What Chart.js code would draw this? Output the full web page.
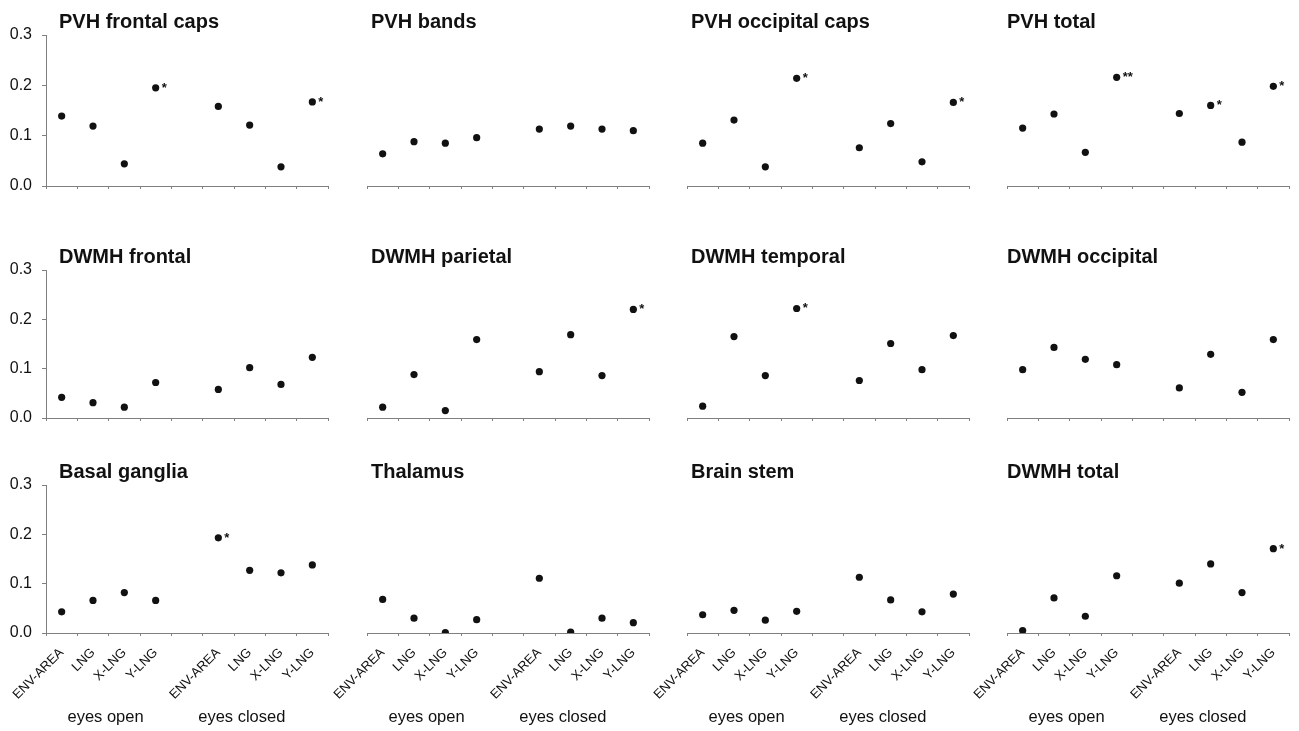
<!DOCTYPE html>
<html>
<head>
<meta charset="utf-8">
<script src="https://cdn.jsdelivr.net/npm/chart.js@4/dist/chart.umd.min.js"></script>
<style>
  body { margin: 0; background: #fff; }
  #wrap { position: relative; width: 1299px; height: 731px; overflow: hidden; }
  #wrap canvas { position: absolute; }
</style>
</head>
<body>
<div id="wrap"></div>
<script>
// categories (index 4 is the empty slot between the two groups)
const categories = ['ENV-AREA', 'LNG', 'X-LNG', 'Y-LNG', '', 'ENV-AREA', 'LNG', 'X-LNG', 'Y-LNG'];
const groupLabels = ['eyes open', 'eyes closed'];
const yTicks = [0, 0.1, 0.2, 0.3];

const titles = [
  'PVH frontal caps', 'PVH bands', 'PVH occipital caps', 'PVH total',
  'DWMH frontal', 'DWMH parietal', 'DWMH temporal', 'DWMH occipital',
  'Basal ganglia', 'Thalamus', 'Brain stem', 'DWMH total'
];

const pvhFrontalCaps   = [0.139, 0.119, 0.044, 0.195, null, 0.158, 0.121, 0.038, 0.167];
const pvhBands         = [0.064, 0.088, 0.085, 0.096, null, 0.113, 0.119, 0.113, 0.110];
const pvhOccipitalCaps = [0.085, 0.131, 0.038, 0.214, null, 0.076, 0.124, 0.048, 0.166];
const pvhTotal         = [0.115, 0.143, 0.067, 0.216, null, 0.144, 0.160, 0.087, 0.198];
const dwmhFrontal      = [0.042, 0.031, 0.022, 0.072, null, 0.058, 0.102, 0.068, 0.123];
const dwmhParietal     = [0.022, 0.088, 0.015, 0.159, null, 0.094, 0.169, 0.086, 0.220];
const dwmhTemporal     = [0.024, 0.165, 0.086, 0.222, null, 0.076, 0.151, 0.098, 0.167];
const dwmhOccipital    = [0.098, 0.143, 0.119, 0.108, null, 0.061, 0.129, 0.052, 0.159];
const basalGanglia     = [0.043, 0.066, 0.082, 0.066, null, 0.193, 0.127, 0.122, 0.138];
const thalamus         = [0.068, 0.030, 0.001, 0.027, null, 0.111, 0.002, 0.030, 0.021];
const brainStem        = [0.037, 0.046, 0.026, 0.044, null, 0.113, 0.067, 0.043, 0.079];
const dwmhTotal        = [0.005, 0.071, 0.034, 0.116, null, 0.101, 0.140, 0.082, 0.171];

// significance marks next to points
const pvhFrontalStars   = ['', '', '', '*', '', '', '', '', '*'];
const pvhOccipitalStars = ['', '', '', '*', '', '', '', '', '*'];
const pvhTotalStars     = ['', '', '', '**', '', '', '*', '', '*'];
const dwmhParietalStars = ['', '', '', '', '', '', '', '', '*'];
const dwmhTemporalStars = ['', '', '', '*', '', '', '', '', ''];
const basalStars        = ['', '', '', '', '', '*', '', '', ''];
const dwmhTotalStars    = ['', '', '', '', '', '', '', '', '*'];

const seriesList = [
  pvhFrontalCaps, pvhBands, pvhOccipitalCaps, pvhTotal,
  dwmhFrontal, dwmhParietal, dwmhTemporal, dwmhOccipital,
  basalGanglia, thalamus, brainStem, dwmhTotal
];
const starsList = [
  pvhFrontalStars, null, pvhOccipitalStars, pvhTotalStars,
  null, dwmhParietalStars, dwmhTemporalStars, null,
  basalStars, null, null, dwmhTotalStars
];

// layout
const axisX = [46, 367, 687, 1007];
const plotW = 282;
const yAxisW = 46;
const plotTop = [35, 270, 485];
const plotBottom = [186, 418, 633];
const topPad = 35;
const titleDx = [13, 4, 4, 0];
const FONT = '"Liberation Sans", Arial, sans-serif';

const panelText = {
  id: 'panelText',
  afterDatasetsDraw(chart, args, opts) {
    const ctx = chart.ctx;
    const area = chart.chartArea;
    const xs = chart.scales.x, ys = chart.scales.y;
    ctx.save();
    ctx.fillStyle = '#111';
    ctx.font = 'bold 20px ' + FONT;
    ctx.textAlign = 'left';
    ctx.textBaseline = 'alphabetic';
    ctx.fillText(opts.title, area.left + opts.titleDx, area.top - 7);

    if (opts.stars) {
      ctx.font = 'bold 13px ' + FONT;
      opts.stars.forEach((s, i) => {
        if (!s) return;
        const v = opts.values[i];
        ctx.fillText(s, xs.getPixelForValue(i) + 6, ys.getPixelForValue(v) + 4);
      });
    }

    if (opts.groups) {
      ctx.font = '16.5px ' + FONT;
      ctx.textAlign = 'center';
      ctx.textBaseline = 'middle';
      ctx.fillText(groupLabels[0], xs.getPixelForValue(1.4), area.bottom + 84);
      ctx.fillText(groupLabels[1], xs.getPixelForValue(5.75), area.bottom + 84);
    }
    ctx.restore();
  }
};

const wrap = document.getElementById('wrap');

seriesList.forEach((values, k) => {
  const row = Math.floor(k / 4), col = k % 4;
  const bottomH = row === 2 ? 731 - plotBottom[2] : 20;
  const canvas = document.createElement('canvas');
  const w = yAxisW + plotW + 12;
  const h = topPad + (plotBottom[row] - plotTop[row]) + bottomH;
  canvas.width = w;
  canvas.height = h;
  canvas.style.left = (axisX[col] - yAxisW) + 'px';
  canvas.style.top = (plotTop[row] - topPad) + 'px';
  wrap.appendChild(canvas);

  const firstCol = col === 0;
  const lastRow = row === 2;

  new Chart(canvas, {
    type: 'line',
    data: {
      labels: categories,
      datasets: [{
        data: values,
        showLine: false,
        pointRadius: 3.6,
        pointHoverRadius: 3.6,
        pointBackgroundColor: '#111',
        pointBorderColor: '#111',
        pointBorderWidth: 0
      }]
    },
    options: {
      responsive: false,
      animation: false,
      events: [],
      layout: { padding: { top: topPad, left: 0, right: 12, bottom: 0 } },
      plugins: {
        legend: { display: false },
        title: { display: false },
        tooltip: { enabled: false },
        panelText: {
          title: titles[k],
          titleDx: titleDx[col],
          values: values,
          stars: starsList[k],
          groups: lastRow
        }
      },
      scales: {
        x: {
          type: 'category',
          offset: true,
          afterFit: s => { s.height = bottomH; },
          border: { display: true, color: '#808080', width: 1 },
          grid: { offset: true, drawOnChartArea: false, drawTicks: true, tickLength: 3, color: '#808080' },
          ticks: {
            display: lastRow,
            autoSkip: false,
            minRotation: 45,
            maxRotation: 45,
            padding: 9,
            color: '#111',
            font: { family: FONT, size: 13 }
          }
        },
        y: {
          min: 0,
          max: 0.3,
          afterFit: s => { s.width = yAxisW; },
          afterBuildTicks: s => { s.ticks = yTicks.map(v => ({ value: v })); },
          border: { display: firstCol, color: '#808080', width: 1 },
          grid: { display: firstCol, drawOnChartArea: false, drawTicks: true, tickLength: 4, color: '#808080' },
          ticks: {
            display: firstCol,
            padding: 10,
            color: '#111',
            font: { family: FONT, size: 16 },
            callback: v => Number(v).toFixed(1)
          }
        }
      }
    },
    plugins: [panelText]
  });
});
</script>
</body>
</html>
